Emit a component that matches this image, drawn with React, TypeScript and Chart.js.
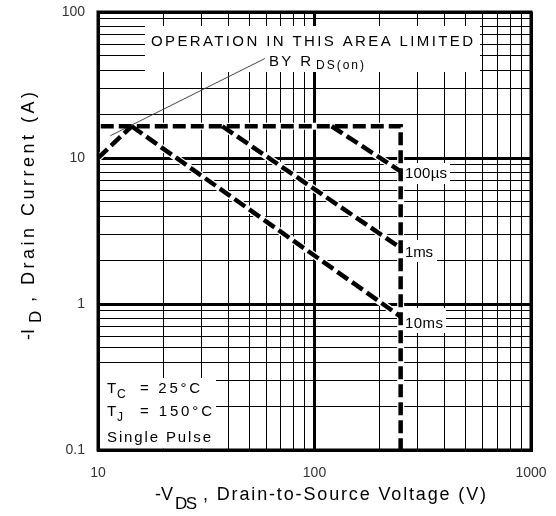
import React, { useEffect, useRef } from 'react';
import { Chart, registerables } from 'chart.js';

Chart.register(...registerables);

// ---- axis ticks (log grid) ----
const xGridValues = [10, 20, 30, 40, 50, 60, 70, 80, 90, 100, 200, 300, 400, 500, 600, 700, 800, 900, 1000];
const yGridValues = [
  0.1, 0.2, 0.3, 0.4, 0.5, 0.6, 0.7, 0.8, 0.9,
  1, 2, 3, 4, 5, 6, 7, 8, 9,
  10, 20, 30, 40, 50, 60, 70, 80, 90, 100,
];
const xTickLabels = ['10', '100', '1000'];
const yTickLabels = ['0.1', '1', '10', '100'];

// ---- SOA boundary lines (V, A) ----
const rdsLimitV = [10, 14.3];
const rdsLimitI = [10, 16.5];
const envelopeV = [10.3, 250, 250];
const envelopeI = [16.5, 16.5, 0.1];
const pulse100usV = [120, 250];
const pulse100usI = [16.5, 8.1];
const pulse1msV = [37.5, 250];
const pulse1msI = [16.5, 2.42];
const pulse10msV = [14.3, 250];
const pulse10msI = [16.5, 0.82];
const pointerV = [11.4, 59];
const pointerI = [14.2, 48];

// ---- texts ----
const noteLine1 = 'OPERATION IN THIS AREA LIMITED';
const noteLine2 = 'BY R';
const noteLine2Sub = 'DS(on)';
const label100us = '100\u00b5s';
const label1ms = '1ms';
const label10ms = '10ms';
const condTc = ['T', 'C', '= 25\u00b0C'];
const condTj = ['T', 'J', '= 150\u00b0C'];
const condPulse = 'Single Pulse';
const xTitle = ['-V', 'DS', ', Drain-to-Source Voltage (V)'];
const yTitle = ['-I', 'D', ', Drain Current (A)'];

const FONT = '"Liberation Sans", Arial, sans-serif';

const isDecade = (v: number) => Math.abs(Math.log10(v) - Math.round(Math.log10(v))) < 1e-9;

function txt(ctx: any, s: string, x: number, y: number, size: number, width?: number) {
  ctx.font = `${size}px ${FONT}`;
  ctx.letterSpacing = '0px';
  let sp = 0;
  if (width && s.length > 1) {
    const w = ctx.measureText(s).width;
    sp = (width - w) / (s.length - 1);
  }
  ctx.letterSpacing = `${sp}px`;
  ctx.fillText(s, x, y);
  ctx.letterSpacing = '0px';
}

const whiteBoxes = [
  [145, 26, 480, 72],
  [100, 378, 216, 448.5],
  [403, 163, 450, 184],
  [403, 240, 437, 262],
  [403, 308, 446, 333],
];

const annotPlugin = {
  id: 'annot',
  beforeDatasetsDraw(chart: any) {
    const ctx = chart.ctx;
    ctx.save();
    ctx.fillStyle = '#fff';
    for (const [x0, y0, x1, y1] of whiteBoxes) ctx.fillRect(x0, y0, x1 - x0, y1 - y0);
    ctx.restore();
  },
  afterDatasetsDraw(chart: any) {
    const ctx = chart.ctx;
    const { left, top, right, bottom } = chart.chartArea;
    ctx.save();
    // frame
    ctx.strokeStyle = '#000';
    ctx.lineWidth = 3;
    ctx.strokeRect(left, top, right - left, bottom - top);

    ctx.fillStyle = '#000';
    ctx.textAlign = 'left';
    ctx.textBaseline = 'alphabetic';
    // top note
    txt(ctx, noteLine1, 151, 46, 15, 322);
    txt(ctx, noteLine2, 269, 66, 15, 42);
    txt(ctx, noteLine2Sub, 316, 69, 12, 48);
    // pulse labels
    txt(ctx, label100us, 405, 178, 15, 42);
    txt(ctx, label1ms, 405, 257, 15, 28);
    txt(ctx, label10ms, 405, 328, 15, 38);
    // conditions
    txt(ctx, condTc[0], 107, 393, 15);
    txt(ctx, condTc[1], 117, 398, 12);
    txt(ctx, condTc[2], 140, 393, 15, 60);
    txt(ctx, condTj[0], 107, 416, 15);
    txt(ctx, condTj[1], 117, 421, 12);
    txt(ctx, condTj[2], 140, 416, 15, 72);
    txt(ctx, condPulse, 107, 442, 15, 104);

    // x title
    txt(ctx, xTitle[0], 155, 500, 18);
    txt(ctx, xTitle[1], 175, 509, 17, 22);
    txt(ctx, xTitle[2], 203, 500, 18, 283);

    // y title (rotated)
    ctx.translate(34, 340);
    ctx.rotate(-Math.PI / 2);
    txt(ctx, yTitle[0], 0, 0, 18);
    txt(ctx, yTitle[1], 17, 7, 17, 11);
    txt(ctx, yTitle[2], 38, 0, 18, 210);
    ctx.restore();
  },
};

const mk = (vs: number[], is: number[]) => vs.map((v, i) => ({ x: v, y: is[i] }));

export default function App() {
  const ref = useRef<HTMLCanvasElement>(null);
  useEffect(() => {
    const dashedSets = [
      mk(rdsLimitV, rdsLimitI),
      mk(envelopeV, envelopeI),
      mk(pulse100usV, pulse100usI),
      mk(pulse1msV, pulse1msI),
      mk(pulse10msV, pulse10msI),
    ];
    const datasets: any[] = [
      ...dashedSets.map((d) => ({
        data: d,
        borderColor: '#000',
        borderWidth: 4.5,
        borderDash: [13, 5],
        borderCapStyle: 'butt',
        borderJoinStyle: 'miter',
        pointRadius: 0,
        fill: false,
        tension: 0,
        order: 0,
      })),
      {
        data: mk(pointerV, pointerI),
        borderColor: '#444',
        borderWidth: 1,
        pointRadius: 0,
        fill: false,
        order: 0,
      },
      ...dashedSets.map((d) => ({
        data: d,
        borderColor: '#fff',
        borderWidth: 7,
        pointRadius: 0,
        fill: false,
        tension: 0,
        order: 1,
      })),
    ];

    const gridWidth = (c: any) => (c.tick && isDecade(c.tick.value) ? 3 : 1);
    const labelFor = (labels: string[]) => (v: any) => {
      const n = Number(v);
      if (!isDecade(n)) return '';
      const s = labels.find((l) => Math.abs(Number(l) - n) < 1e-9);
      return s ?? '';
    };

    const chart = new Chart(ref.current as HTMLCanvasElement, {
      type: 'line',
      data: { datasets },
      options: {
        animation: false,
        responsive: false,
        devicePixelRatio: 1,
        events: [],
        layout: { autoPadding: false, padding: { top: 12, right: 25, left: 0, bottom: 0 } },
        plugins: { legend: { display: false }, tooltip: { enabled: false } },
        scales: {
          x: {
            type: 'logarithmic',
            min: 10,
            max: 1000,
            afterBuildTicks: (s: any) => {
              s.ticks = xGridValues.map((v) => ({ value: v, major: isDecade(v) }));
            },
            afterFit: (s: any) => {
              s.height = 66;
              s.paddingLeft = 0;
              s.paddingRight = 0;
              s.paddingTop = 0;
              s.paddingBottom = 0;
            },
            grid: { color: '#000', lineWidth: gridWidth, drawTicks: false },
            border: { display: true, color: '#000', width: 3 },
            ticks: {
              autoSkip: false,
              maxRotation: 0,
              minRotation: 0,
              padding: 15,
              color: '#333',
              font: { family: FONT, size: 14 },
              callback: labelFor(xTickLabels),
            },
          },
          y: {
            type: 'logarithmic',
            min: 0.1,
            max: 100,
            afterBuildTicks: (s: any) => {
              s.ticks = yGridValues.map((v) => ({ value: v, major: isDecade(v) }));
            },
            afterFit: (s: any) => {
              s.width = 98;
              s.paddingLeft = 0;
              s.paddingRight = 0;
              s.paddingTop = 0;
              s.paddingBottom = 0;
            },
            grid: { color: '#000', lineWidth: gridWidth, drawTicks: false },
            border: { display: true, color: '#000', width: 3 },
            ticks: {
              autoSkip: false,
              padding: 13,
              color: '#333',
              font: { family: FONT, size: 14 },
              callback: labelFor(yTickLabels),
            },
          },
        },
      } as any,
      plugins: [annotPlugin],
    });
    return () => chart.destroy();
  }, []);

  return (
    <div style={{ position: 'fixed', left: 0, top: 0, width: 556, height: 516, background: '#fff' }}>
      <canvas ref={ref} width={556} height={516} style={{ display: 'block' }} />
    </div>
  );
}
